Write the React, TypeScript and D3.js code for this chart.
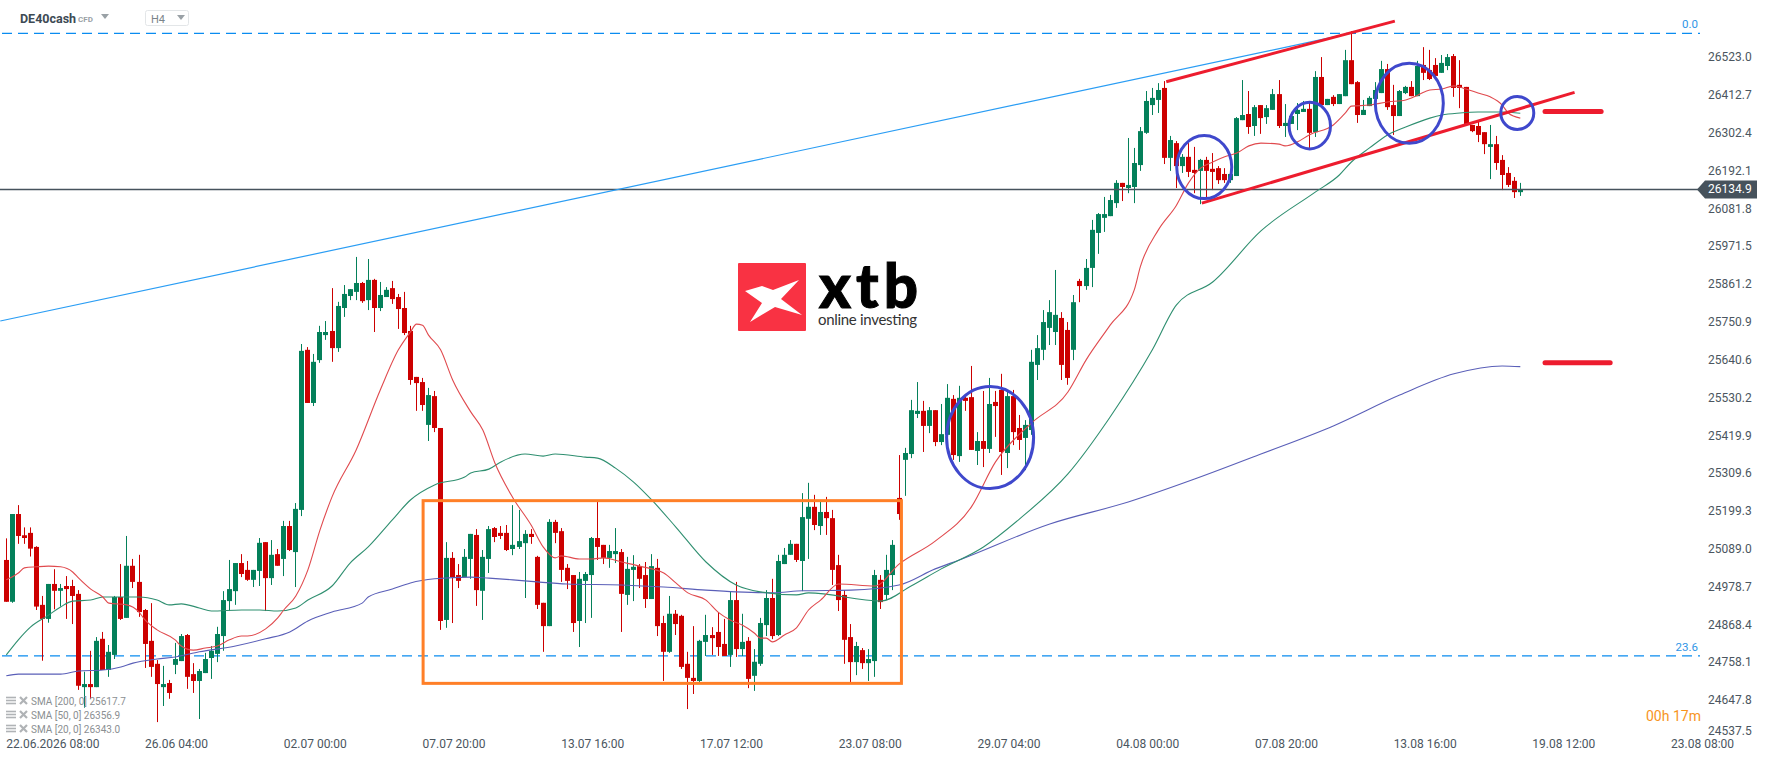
import React, { useEffect, useRef } from 'react';
import * as d3 from 'd3';

const WIDTH = 1768;
const HEIGHT = 761;

const opens = [
  25054,24932,25188,25126,25133,25092,24923,24882,24984,24964,
  24978,24978,24955,24683,24692,24683,24824,24733,24777,24946,
  24885,25037,24990,24908,24818,24751,24683,24695,24748,24759,
  24835,24721,24701,24724,24768,24780,24832,24934,24963,25045,
  25025,24996,25022,25106,25001,25071,25057,25153,25077,25200,
  25667,25512,25637,25710,25722,25672,25789,25824,25836,25862,
  25812,25871,25789,25821,25847,25821,25789,25722,25588,25573,
  25448,25532,25439,24879,25060,25010,25004,25057,25127,24964,
  25057,25147,25133,25133,25086,25092,25103,25130,25063,24929,
  24861,25165,25138,25031,25010,24876,24993,25010,25118,25098,
  25060,25071,25077,24952,25025,25036,25010,24940,25031,24870,
  24786,24897,24891,24751,24710,24701,24815,24835,24844,24809,
  24777,24937,24794,24818,24716,24751,24864,24943,24835,25042,
  25069,25101,25051,25174,25209,25153,25194,25176,25039,24952,
  24829,24756,24791,24753,24759,24996,24952,25010,25235,25346,
  25363,25480,25489,25445,25491,25398,25419,25524,25357,25527,
  25529,25372,25401,25378,25515,25550,25366,25532,25439,25410,
  25433,25623,25667,25731,25719,25760,25725,25667,25868,25853,
  25906,26008,26052,26057,26095,26154,26139,26142,26206,26300,
  26381,26396,26431,26227,26270,26203,26230,26192,26189,26221,
  26195,26197,26180,26162,26174,26337,26355,26320,26381,26346,
  26367,26413,26320,26326,26355,26361,26370,26302,26463,26381,
  26405,26384,26407,26512,26448,26352,26378,26399,26416,26486,
  26381,26349,26416,26434,26407,26498,26483,26498,26475,26495,
  26524,26440,26434,26323,26320,26302,26259,26267,26221,26183,26160,26127,
];

const closes = [
  24932,25188,25124,25118,25087,24918,24882,24984,24964,24972,
  24969,24949,24687,24692,24683,24818,24733,24786,24946,24882,
  25037,24990,24902,24809,24742,24692,24692,24666,24765,24832,
  24713,24701,24730,24765,24789,24838,24937,24969,25045,25013,
  24996,25025,25104,25001,25069,25037,25153,25083,25203,25664,
  25512,25632,25719,25719,25672,25795,25830,25844,25862,25809,
  25871,25789,25827,25842,25815,25786,25716,25579,25570,25506,
  25535,25439,24876,25060,25004,24993,25063,25130,24966,25063,
  25144,25121,25124,25083,25098,25109,25130,25121,24923,24861,
  25165,25133,25025,24993,24870,24999,25013,25118,25092,25060,
  25080,25080,24955,25028,25034,24999,24940,25036,24861,24786,
  24897,24867,24742,24710,24701,24818,24835,24826,24800,24774,
  24937,24794,24815,24707,24757,24870,24943,24832,25051,25069,
  25101,25054,25179,25209,25156,25194,25176,25025,24937,24821,
  24756,24803,24753,24765,25010,24931,25025,25098,25188,25366,
  25491,25489,25445,25491,25398,25421,25527,25360,25527,25518,
  25375,25401,25378,25509,25503,25369,25532,25427,25404,25448,
  25632,25672,25748,25777,25769,25623,25585,25806,25853,25906,
  26017,26063,26063,26104,26154,26142,26148,26212,26305,26393,
  26402,26425,26227,26279,26203,26230,26186,26183,26221,26189,
  26186,26162,26162,26180,26343,26352,26317,26375,26343,26372,
  26413,26320,26329,26349,26367,26370,26300,26463,26381,26399,
  26384,26413,26512,26442,26352,26367,26402,26425,26486,26375,
  26349,26422,26434,26407,26495,26475,26457,26466,26504,26521,
  26431,26431,26323,26305,26294,26267,26267,26212,26177,26148,26127,26135,
];

const highs = [
  25117,25188,25214,25149,25149,25094,24949,24984,25027,24984,
  25007,24996,24966,24728,24789,24829,24844,24806,24949,25042,
  25124,25057,25069,24911,24928,24762,24745,24704,24812,24838,
  24838,24753,24736,24783,24803,24859,24963,25054,25045,25071,
  25051,25025,25118,25106,25112,25086,25168,25168,25220,25684,
  25675,25655,25737,25751,25847,25807,25856,25844,25938,25865,
  25932,25874,25865,25850,25868,25830,25836,25737,25588,25585,
  25556,25547,25439,25106,25077,25042,25086,25130,25144,25083,
  25153,25150,25153,25156,25214,25200,25141,25144,25066,24929,
  25173,25171,25147,25042,25010,25019,25019,25121,25224,25098,
  25098,25147,25086,25063,25068,25042,25048,25071,25057,24891,
  24949,24908,24894,24786,24861,24821,24894,24858,24902,24882,
  24961,24990,24897,24829,24794,24885,24966,24999,25069,25089,
  25112,25101,25249,25279,25244,25229,25238,25200,25069,24966,
  24867,24815,24797,24794,25025,25010,25069,25112,25360,25381,
  25521,25573,25518,25500,25491,25509,25567,25535,25562,25535,
  25620,25427,25547,25585,25547,25597,25544,25550,25477,25462,
  25667,25710,25783,25812,25900,25777,25748,25827,25874,25932,
  26046,26066,26113,26119,26162,26154,26285,26256,26317,26422,
  26431,26445,26451,26291,26276,26238,26270,26259,26224,26230,
  26241,26203,26197,26180,26346,26454,26422,26381,26381,26381,
  26428,26454,26384,26352,26387,26393,26393,26480,26521,26399,
  26410,26413,26542,26597,26451,26396,26407,26448,26510,26501,
  26440,26425,26437,26451,26510,26550,26542,26518,26527,26530,
  26530,26512,26434,26323,26337,26302,26323,26291,26235,26200,26171,26154,
];

const lows = [
  24932,24929,25101,25101,25064,24908,24760,24871,24910,24918,
  24882,24867,24675,24623,24649,24683,24733,24713,24765,24879,
  24885,24972,24888,24739,24713,24581,24628,24649,24721,24759,
  24678,24666,24590,24724,24707,24756,24789,24905,24923,25004,
  24993,24975,24978,24905,24981,25037,25007,25080,24975,25182,
  25512,25503,25629,25696,25632,25661,25763,25812,25812,25804,
  25783,25719,25780,25821,25801,25728,25710,25565,25489,25489,
  25401,25427,24850,24856,24870,24972,25004,24999,24920,24879,
  25016,25106,25115,25080,25068,25086,24943,25101,24911,24786,
  24861,25103,24990,24969,24844,24800,24870,24885,25054,25042,
  25031,25045,24844,24923,24934,24972,24914,24940,24832,24701,
  24783,24835,24736,24619,24663,24698,24774,24777,24774,24774,
  24742,24771,24774,24680,24672,24745,24832,24823,24832,25042,
  25069,25048,24963,25057,25141,25127,25127,24981,24905,24751,
  24698,24718,24736,24701,24713,24911,24937,24966,25171,25241,
  25351,25468,25369,25424,25386,25389,25404,25346,25340,25489,
  25375,25331,25325,25366,25413,25302,25322,25389,25375,25316,
  25419,25579,25637,25681,25681,25579,25565,25637,25806,25842,
  25850,25947,26011,26057,26081,26101,26124,26095,26189,26297,
  26352,26358,26209,26189,26139,26183,26171,26124,26092,26110,
  26133,26151,26154,26154,26174,26337,26297,26291,26297,26326,
  26367,26314,26288,26326,26308,26361,26256,26288,26381,26381,
  26378,26384,26407,26442,26329,26352,26378,26396,26416,26367,
  26294,26349,26413,26407,26407,26454,26454,26454,26475,26483,
  26405,26372,26320,26302,26273,26238,26165,26192,26133,26142,26110,26116,
];

const sma20 = [
  [0,24996],[2,25016],[3,25031],[5,25034],[7,25036],[9,25034],[11,25019],[12,25001],[14,24969],[16,24946],
  [17,24928],[20,24923],[22,24902],[23,24879],[25,24850],[28,24821],[29,24803],[31,24791],[33,24797],[35,24803],
  [37,24821],[39,24832],[40,24832],[43,24853],[45,24885],[46,24908],[48,24949],[50,25025],[52,25141],[54,25238],
  [58,25375],[62,25550],[65,25667],[67,25719],[68,25742],[69,25739],[70,25710],[72,25667],[74,25579],[77,25486],
  [79,25433],[81,25337],[84,25235],[87,25156],[89,25092],[91,25060],[92,25066],[95,25057],[97,25057],[99,25060],
  [102,25048],[105,25036],[109,25016],[111,24987],[113,24958],[116,24937],[118,24902],[120,24879],[122,24864],[124,24841],
  [125,24826],[126,24826],[127,24815],[129,24835],[131,24856],[133,24908],[135,24937],[138,24984],[144,24978],[148,25042],
  [154,25109],[160,25209],[164,25340],[170,25454],[176,25544],[179,25637],[183,25739],[187,25842],[188,25909],[191,26017],
  [194,26089],[196,26154],[198,26197],[200,26215],[202,26230],[204,26241],[206,26262],[208,26270],[211,26267],[212,26262],
  [214,26273],[216,26294],[220,26323],[222,26358],[223,26378],[226,26381],[229,26390],[232,26396],[234,26410],[236,26425],
  [238,26428],[240,26437],[242,26428],[244,26416],[246,26405],[248,26381],[249,26358],[251,26343],
];

const sma50 = [
  [0,24777],[2,24821],[4,24858],[7,24893],[9,24917],[11,24934],[14,24937],[16,24946],[18,24946],[22,24946],
  [25,24937],[27,24923],[29,24926],[32,24914],[34,24905],[39,24908],[42,24908],[45,24905],[48,24914],[50,24937],
  [54,24978],[57,25045],[60,25092],[64,25171],[67,25229],[71,25273],[76,25296],[77,25308],[80,25319],[82,25340],
  [86,25363],[89,25357],[91,25363],[96,25354],[98,25351],[101,25322],[104,25281],[107,25229],[111,25150],[116,25048],
  [121,24981],[125,24961],[131,24952],[133,24958],[145,24934],[150,24978],[155,25028],[162,25092],[168,25174],[176,25305],
  [183,25471],[190,25667],[194,25798],[200,25865],[208,26014],[217,26127],[221,26177],[223,26215],[226,26256],[229,26294],
  [232,26317],[236,26343],[238,26352],[241,26358],[244,26361],[248,26361],[251,26357],
];

const sma200 = [
  [0,24716],[2,24721],[9,24721],[12,24730],[16,24733],[19,24742],[21,24753],[25,24765],[28,24771],[32,24786],
  [38,24803],[43,24824],[47,24844],[50,24876],[54,24902],[59,24928],[60,24946],[64,24969],[67,24987],[71,24999],
  [77,25004],[80,25001],[84,24996],[88,24990],[93,24984],[102,24981],[109,24975],[116,24966],[121,24961],[127,24958],
  [132,24964],[140,24966],[148,24981],[154,25028],[158,25054],[173,25159],[186,25223],[197,25290],[208,25363],[220,25445],
  [231,25535],[240,25597],[248,25620],[251,25618],
];

const priceTicks = [
  26523.0,26412.7,26302.4,26192.1,26081.8,25971.5,25861.2,25750.9,25640.6,25530.2,
  25419.9,25309.6,25199.3,25089.0,24978.7,24868.4,24758.1,24647.8,24537.5,
];
const lastPrice = 26134.9;

const timeLabels = [
  '22.06.2026 08:00','26.06 04:00','02.07 00:00','07.07 20:00','13.07 16:00','17.07 12:00','23.07 08:00',
  '29.07 04:00','04.08 00:00','07.08 20:00','13.08 16:00','19.08 12:00','23.08 08:00',
];
const timeLabelStep = 23;

const fibLevels = [
  { label: '0.0', price: 26590 },
  { label: '23.6', price: 24774 },
];

const smaLegend = ['SMA [200, 0] 25617.7', 'SMA [50, 0] 26356.9', 'SMA [20, 0] 26343.0'];

// drawings on the chart, in candle index / price
const trendLine = [[-1, 25751], [222.8, 26590]];
const channelLines = [
  [[192.3, 26449], [230.2, 26626]],
  [[198.2, 26095], [260, 26418]],
];
const levelBars = [
  [[255.1, 26362], [264.4, 26362]],
  [[255.1, 25629], [265.9, 25629]],
];
const rangeBox = { i0: 69.1, i1: 148.4, top: 25227, bottom: 24694 };
const circles = [
  { i: 198.6, p: 26200, rx: 27.5, ry: 31.5 },
  { i: 216.1, p: 26321, rx: 20.7, ry: 23.3 },
  { i: 232.6, p: 26386, rx: 34, ry: 40 },
  { i: 250.5, p: 26358, rx: 16.5, ry: 16.5 },
  { i: 163.1, p: 25411, rx: 43.5, ry: 51 },
];

const GREEN = '#04805a';
const RED = '#cc0000';
const TEXT = '#4b5660';
const FONT = 'Roboto, sans-serif';

export default function App() {
  const svgRef = useRef<SVGSVGElement>(null);

  useEffect(() => {
    const svg = d3.select(svgRef.current);
    svg.selectAll('*').remove();

    const xScale = d3.scaleLinear().domain([0, 251]).range([6.3, 1520.3]);
    const yScale = d3.scaleLinear().domain([26523, 24647.8]).range([56.4, 699.2]);

    const candles = opens.map((open, i) => ({
      i, open, close: closes[i], high: highs[i], low: lows[i],
    }));
    const snap = (v: number) => Math.round(v - 0.5) + 0.5;
    const colour = (d: { open: number; close: number }) => (d.close >= d.open ? GREEN : RED);

    // horizontal levels
    svg.selectAll('.fib')
      .data(fibLevels)
      .enter()
      .append('line')
      .attr('x1', 2)
      .attr('x2', 1700)
      .attr('y1', d => yScale(d.price))
      .attr('y2', d => yScale(d.price))
      .attr('stroke', '#0a8cf0')
      .attr('stroke-width', 1.2)
      .attr('stroke-dasharray', '10 6');

    svg.selectAll('.fib-label')
      .data(fibLevels)
      .enter()
      .append('text')
      .attr('x', 1698)
      .attr('y', d => yScale(d.price) - 5)
      .attr('text-anchor', 'end')
      .attr('font-family', FONT)
      .attr('font-size', 11.5)
      .attr('fill', '#2f95e6')
      .text(d => d.label);

    // candles
    const wicks = svg.append('g');
    wicks.selectAll('line')
      .data(candles)
      .enter()
      .append('line')
      .attr('x1', d => snap(xScale(d.i)))
      .attr('x2', d => snap(xScale(d.i)))
      .attr('y1', d => yScale(d.high))
      .attr('y2', d => yScale(d.low))
      .attr('stroke', colour)
      .attr('stroke-width', 1);

    const bodies = svg.append('g');
    bodies.selectAll('rect')
      .data(candles)
      .enter()
      .append('rect')
      .attr('x', d => snap(xScale(d.i)) - 2.5)
      .attr('width', 5)
      .attr('y', d => yScale(Math.max(d.open, d.close)))
      .attr('height', d => Math.max(1, Math.abs(yScale(d.open) - yScale(d.close))))
      .attr('fill', colour);

    // last price line
    svg.append('line')
      .attr('x1', 0)
      .attr('x2', 1700)
      .attr('y1', yScale(lastPrice))
      .attr('y2', yScale(lastPrice))
      .attr('stroke', '#46525c')
      .attr('stroke-width', 1.4);

    // trend line under the channel
    const pathLine = d3.line<number[]>()
      .x(d => xScale(d[0]))
      .y(d => yScale(d[1]));

    const smaLine = pathLine.curve(d3.curveMonotoneX);
    const straight = d3.line<number[]>()
      .x(d => xScale(d[0]))
      .y(d => yScale(d[1]));

    svg.append('path')
      .attr('d', straight(trendLine))
      .attr('fill', 'none')
      .attr('stroke', '#2a9df4')
      .attr('stroke-width', 1.2);

    // moving averages
    [
      { data: sma200, color: '#5a5fb8' },
      { data: sma50, color: '#2f8f70' },
      { data: sma20, color: '#e04a4e' },
    ].forEach(s => {
      svg.append('path')
        .attr('d', smaLine(s.data))
        .attr('fill', 'none')
        .attr('stroke', s.color)
        .attr('stroke-width', 1.1);
    });

    // orange range box
    svg.append('rect')
      .attr('x', xScale(rangeBox.i0))
      .attr('y', yScale(rangeBox.top))
      .attr('width', xScale(rangeBox.i1) - xScale(rangeBox.i0))
      .attr('height', yScale(rangeBox.bottom) - yScale(rangeBox.top))
      .attr('fill', 'none')
      .attr('stroke', '#ff7f27')
      .attr('stroke-width', 3);

    channelLines.forEach(l => {
      svg.append('path')
        .attr('d', straight(l))
        .attr('stroke', '#ed1c2e')
        .attr('stroke-width', 3);
    });

    levelBars.forEach(l => {
      svg.append('path')
        .attr('d', straight(l))
        .attr('stroke', '#ed1c2e')
        .attr('stroke-width', 5)
        .attr('stroke-linecap', 'round');
    });

    svg.selectAll('ellipse')
      .data(circles)
      .enter()
      .append('ellipse')
      .attr('cx', d => xScale(d.i))
      .attr('cy', d => yScale(d.p))
      .attr('rx', d => d.rx)
      .attr('ry', d => d.ry)
      .attr('fill', 'none')
      .attr('stroke', '#3f48cc')
      .attr('stroke-width', 3);

    // price axis, the lowest label is pushed up by the legend row
    svg.selectAll('.price-tick')
      .data(priceTicks)
      .enter()
      .append('text')
      .attr('x', 1708)
      .attr('y', d => Math.min(yScale(d), 730) + 5)
      .attr('font-family', FONT)
      .attr('font-size', 12)
      .attr('fill', TEXT)
      .text(d => d.toFixed(1));

    const tagY = yScale(lastPrice);
    svg.append('path')
      .attr('d', `M1697,${tagY} L1705,${tagY - 9} H1757 V${tagY + 9} H1705 Z`)
      .attr('fill', '#46525c');
    svg.append('text')
      .attr('x', 1708)
      .attr('y', tagY + 4)
      .attr('font-family', FONT)
      .attr('font-size', 12)
      .attr('fill', '#fff')
      .text(lastPrice.toFixed(1));

    // time axis
    svg.selectAll('.time-label')
      .data(timeLabels)
      .enter()
      .append('text')
      .attr('x', (_, i) => xScale(i * timeLabelStep))
      .attr('y', 748)
      .attr('font-family', FONT)
      .attr('font-size', 12)
      .attr('fill', TEXT)
      .text(d => d);

    // SMA legend
    smaLegend.forEach((label, i) => {
      const rowY = 701 + i * 14;
      const row = svg.append('g');
      [-3.5, -0.5, 2.5].forEach(dy => {
        row.append('line')
          .attr('x1', 6)
          .attr('x2', 16)
          .attr('y1', rowY + dy)
          .attr('y2', rowY + dy)
          .attr('stroke', '#b0b3b6')
          .attr('stroke-width', 1.6);
      });
      row.append('path')
        .attr('d', `M20,${rowY - 4} L27,${rowY + 3} M27,${rowY - 4} L20,${rowY + 3}`)
        .attr('stroke', '#b0b3b6')
        .attr('stroke-width', 2.2);
      row.append('text')
        .attr('x', 31)
        .attr('y', rowY + 4)
        .attr('font-family', FONT)
        .attr('font-size', 10)
        .attr('fill', '#8b8f92')
        .text(label);
    });

    // countdown
    svg.append('text')
      .attr('x', 1646)
      .attr('y', 721)
      .attr('font-family', FONT)
      .attr('font-size', 14)
      .attr('fill', '#f7941d')
      .text('00h 17m');

    // header
    svg.append('text')
      .attr('x', 20)
      .attr('y', 23)
      .attr('font-family', FONT)
      .attr('font-size', 12.5)
      .attr('font-weight', 700)
      .attr('fill', '#3d4a54')
      .text('DE40cash');
    svg.append('text')
      .attr('x', 78)
      .attr('y', 22)
      .attr('font-family', FONT)
      .attr('font-size', 8)
      .attr('font-weight', 700)
      .attr('fill', '#9aa1a6')
      .text('CFD');
    svg.append('path')
      .attr('d', 'M101,14 H109 L105,19 Z')
      .attr('fill', '#9aa1a6');
    svg.append('rect')
      .attr('x', 145.5)
      .attr('y', 10.5)
      .attr('width', 43)
      .attr('height', 15)
      .attr('rx', 2)
      .attr('fill', '#fff')
      .attr('stroke', '#e3e6e8');
    svg.append('text')
      .attr('x', 151)
      .attr('y', 23)
      .attr('font-family', FONT)
      .attr('font-size', 11)
      .attr('fill', '#7b848a')
      .text('H4');
    svg.append('path')
      .attr('d', 'M177,15 H185 L181,20 Z')
      .attr('fill', '#9aa1a6');

    // xtb logo
    svg.append('rect')
      .attr('x', 738)
      .attr('y', 263)
      .attr('width', 68)
      .attr('height', 68)
      .attr('rx', 1)
      .attr('fill', '#f93243');
    svg.append('path')
      .attr('d', 'M745,291 L762,286 L773,290 L799,280 L781,299 L802,315 L775,307 L750,322 L762,303 Z')
      .attr('fill', '#fff');
    svg.append('text')
      .attr('x', 819)
      .attr('y', 308)
      .attr('font-family', 'Lato, sans-serif')
      .attr('font-size', 60)
      .attr('font-weight', 900)
      .attr('textLength', 99)
      .attr('lengthAdjust', 'spacing')
      .attr('fill', '#000')
      .attr('stroke', '#000')
      .attr('stroke-width', 1)
      .text('xtb');
    svg.append('text')
      .attr('x', 818)
      .attr('y', 325)
      .attr('font-family', 'Lato, sans-serif')
      .attr('font-size', 15)
      .attr('textLength', 99)
      .attr('fill', '#333')
      .text('online investing');
  }, []);

  return (
    <svg
      ref={svgRef}
      width={WIDTH}
      height={HEIGHT}
      style={{ position: 'fixed', left: 0, top: 0, background: '#fff' }}
    />
  );
}
